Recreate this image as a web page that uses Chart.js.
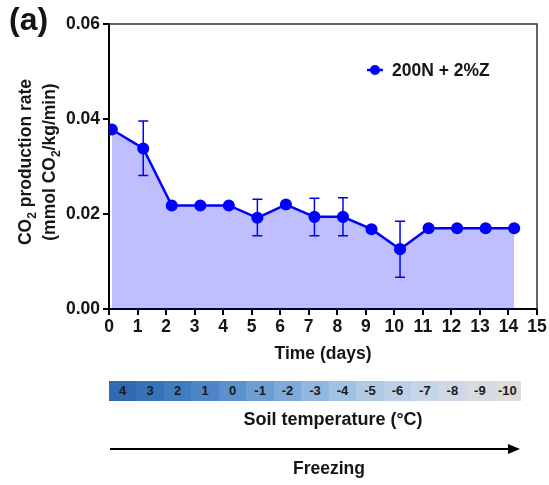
<!DOCTYPE html>
<html>
<head>
<meta charset="utf-8">
<script src="https://cdn.jsdelivr.net/npm/chart.js@4.4.0/dist/chart.umd.min.js"></script>
<style>
  body { margin: 0; background: #fff; font-family: "Liberation Sans", Arial, sans-serif; }
  #wrap { position: relative; width: 549px; height: 485px; overflow: hidden; }
  #chart { position: absolute; left: 0; top: 0; }
  .txt { position: absolute; font-weight: bold; color: #151515; white-space: nowrap; }
  #panel { left: 9px; top: 1px; font-size: 32px; }
  #ytitle { left: 37px; top: 162px; font-size: 17.5px; line-height: 24px; text-align: center;
    transform: translate(-50%, -50%) rotate(-90deg); }
  #ytitle sub { font-size: 12px; line-height: 0; }
  #xtitle { left: 323px; top: 353px; font-size: 17.5px; transform: translate(-50%, -50%); }
  #tempbar { position: absolute; left: 109px; top: 381px; width: 412px; height: 20px; display: flex; }
  #tempbar div { flex: 1; font-size: 13px; font-weight: bold; color: #1a1a1a; text-align: center; line-height: 20px; }
  #soil { left: 333px; top: 419px; font-size: 18px; transform: translate(-50%, -50%); }
  #freezing { left: 329px; top: 468px; font-size: 17.5px; transform: translate(-50%, -50%); }
  #arrow { position: absolute; left: 110px; top: 444px; }
</style>
</head>
<body>
<div id="wrap">
  <canvas id="chart" width="549" height="485"></canvas>
  <div class="txt" id="panel">(a)</div>
  <div class="txt" id="ytitle">CO<sub>2</sub> production rate<br>(mmol CO<sub>2</sub>/kg/min)</div>
  <div class="txt" id="xtitle">Time (days)</div>
  <div id="tempbar"></div>
  <div class="txt" id="soil">Soil temperature (°C)</div>
  <svg id="arrow" width="412" height="10">
    <line x1="0" y1="5" x2="400" y2="5" stroke="#000" stroke-width="2"/>
    <polygon points="398,0 410,5 398,10" fill="#000"/>
  </svg>
  <div class="txt" id="freezing">Freezing</div>
</div>
<script>
// Measured time points (days) and CO2 production rate
const days = [0.1, 1.2, 2.2, 3.2, 4.2, 5.2, 6.2, 7.2, 8.2, 9.2, 10.2, 11.2, 12.2, 13.2, 14.2];
const co2Rate = [0.0378, 0.0338, 0.0218, 0.0218, 0.0218, 0.0192, 0.0220, 0.0194, 0.0194, 0.0168, 0.0126, 0.0170, 0.0170, 0.0170, 0.0170];
// error bar ends (null = no visible bar)
const errHigh = [null, 0.0396, null, null, null, 0.0231, null, 0.0233, 0.0234, null, 0.0185, null, null, null, null];
const errLow = [null, 0.0281, null, null, null, 0.0154, null, 0.0154, 0.0154, null, 0.0067, null, null, null, null];

const seriesLabel = '200N + 2%Z';
const yTicks = [0, 0.02, 0.04, 0.06];
const soilTemps = ['4', '3', '2', '1', '0', '-1', '-2', '-3', '-4', '-5', '-6', '-7', '-8', '-9', '-10'];
const tempColors = ['#2e6bb3', '#3673ba', '#3f7cc0', '#4c86c6', '#5b91cc', '#6c9dd3', '#7eaad9', '#91b7df',
  '#a2c2e3', '#b0cae5', '#bccfe6', '#c6d4e6', '#cfd8e4', '#d6dbe2', '#dcdcdc'];

const blue = '#0000ff';
const fontFamily = '"Liberation Sans", Arial, sans-serif';

// temperature strip
const bar = document.getElementById('tempbar');
soilTemps.forEach((t, i) => {
  const cell = document.createElement('div');
  cell.textContent = t;
  cell.style.backgroundColor = tempColors[i];
  bar.appendChild(cell);
});

/**
 * Error bars, frame and legend drawn on the chart
 */
const extrasPlugin = {
  id: 'extras',
  afterDatasetsDraw(chart) {
    const { ctx, scales: { x, y }, chartArea } = chart;
    ctx.save();
    ctx.strokeStyle = blue;
    ctx.lineWidth = 1.5;
    days.forEach((d, i) => {
      if (errHigh[i] == null) return;
      const px = x.getPixelForValue(d);
      const top = y.getPixelForValue(errHigh[i]);
      const bot = y.getPixelForValue(errLow[i]);
      ctx.beginPath();
      ctx.moveTo(px, top); ctx.lineTo(px, bot);
      ctx.moveTo(px - 5, top); ctx.lineTo(px + 5, top);
      ctx.moveTo(px - 5, bot); ctx.lineTo(px + 5, bot);
      ctx.stroke();
    });

    // top and right frame
    ctx.strokeStyle = '#333';
    ctx.lineWidth = 1.5;
    ctx.beginPath();
    ctx.moveTo(chartArea.left, chartArea.top);
    ctx.lineTo(chartArea.right, chartArea.top);
    ctx.lineTo(chartArea.right, chartArea.bottom);
    ctx.stroke();

    // legend
    const lx = 375, ly = 70;
    ctx.strokeStyle = blue;
    ctx.fillStyle = blue;
    ctx.lineWidth = 2.5;
    ctx.beginPath();
    ctx.moveTo(lx - 8, ly); ctx.lineTo(lx + 8, ly);
    ctx.stroke();
    ctx.beginPath();
    ctx.arc(lx, ly, 5, 0, Math.PI * 2);
    ctx.fill();
    ctx.fillStyle = '#151515';
    ctx.font = 'bold 17.5px ' + fontFamily;
    ctx.textBaseline = 'middle';
    ctx.fillText(seriesLabel, 392, ly + 1);
    ctx.restore();
  }
};

new Chart(document.getElementById('chart'), {
  type: 'line',
  data: {
    datasets: [{
      label: seriesLabel,
      data: days.map((d, i) => ({ x: d, y: co2Rate[i] })),
      borderColor: blue,
      borderWidth: 2.5,
      backgroundColor: 'rgba(0, 0, 255, 0.25)',
      pointBackgroundColor: blue,
      pointBorderColor: blue,
      pointRadius: 4.8,
      tension: 0,
      fill: 'origin'
    }]
  },
  options: {
    responsive: false,
    devicePixelRatio: 1,
    animation: false,
    layout: { padding: { top: 24, right: 12, left: 0, bottom: 146 } },
    plugins: {
      legend: { display: false },
      tooltip: { enabled: false }
    },
    scales: {
      x: {
        type: 'linear',
        min: 0,
        max: 15,
        afterFit: (scale) => { scale.height = 30; },
        border: { display: true, color: '#000', width: 2 },
        grid: { drawOnChartArea: false, drawTicks: true, tickLength: 6, color: '#000', lineWidth: 2 },
        ticks: {
          stepSize: 1,
          padding: 2,
          color: '#151515',
          font: { family: fontFamily, size: 17.5, weight: 'bold' }
        }
      },
      y: {
        min: 0,
        max: 0.06,
        afterFit: (scale) => { scale.width = 109; },
        afterBuildTicks: (scale) => { scale.ticks = yTicks.map(v => ({ value: v })); },
        border: { display: true, color: '#000', width: 2 },
        grid: { drawOnChartArea: false, drawTicks: true, tickLength: 6, color: '#000', lineWidth: 2 },
        ticks: {
          padding: 3,
          color: '#151515',
          callback: (v) => v.toFixed(2),
          font: { family: fontFamily, size: 17.5, weight: 'bold' }
        }
      }
    }
  },
  plugins: [extrasPlugin]
});
</script>
</body>
</html>
